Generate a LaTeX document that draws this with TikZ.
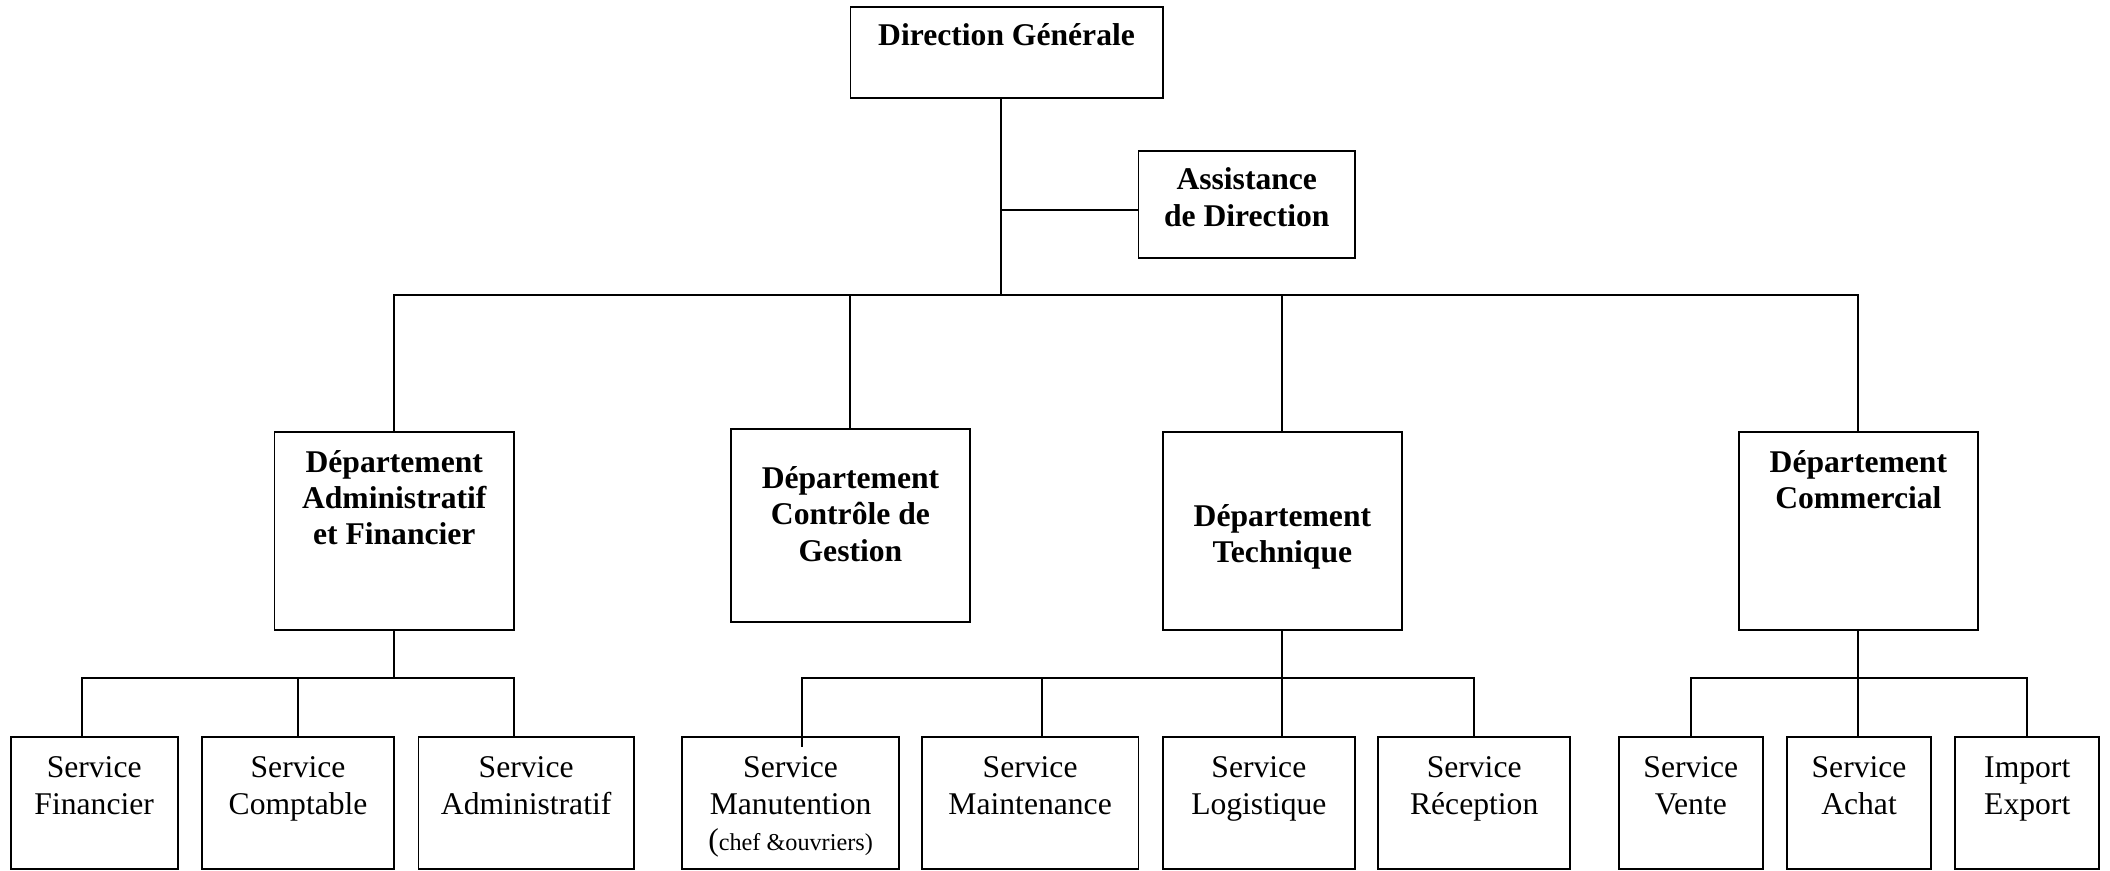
\documentclass[tikz,border=0pt]{standalone}
\usepackage{fontspec}
\setmainfont{Liberation Serif}
\newcommand{\bxt}[4]{\parbox[t][#2][t]{#1}{\centering\vspace*{\dimexpr#3-18.9pt\relax}\strut#4\par}}
\begin{document}
\begin{tikzpicture}[x=1pt,y=-1pt,
  box/.style={draw, line width=1.4pt, inner sep=0pt, outer sep=0pt, anchor=north west, font=\fontsize{23.5}{27}\selectfont},
  bbox/.style={box, font=\fontsize{23.5}{27}\selectfont\bfseries},
  conn/.style={line width=1.5pt}]
\useasboundingbox (0,0) rectangle (1568,647);
% top
\node[bbox] (dg) at (632,5) {\bxt{232pt}{68pt}{29pt}{Direction Générale}};
\node[bbox] (asst) at (846,112) {\bxt{161pt}{80pt}{29pt}{Assistance\\de Direction}};
% departments
\node[bbox] (af) at (204,321) {\bxt{178pt}{147pt}{30pt}{Département\\Administratif\\et Financier}};
\node[bbox] (cg) at (543,319) {\bxt{178pt}{143pt}{44pt}{Département\\Contrôle de\\Gestion}};
\node[bbox] (tech) at (864,321) {\bxt{178pt}{147pt}{70pt}{Département\\Technique}};
\node[bbox] (com) at (1292,321) {\bxt{178pt}{147pt}{30pt}{Département\\Commercial}};
% services
\node[box] (sfin) at (8,548) {\bxt{124pt}{98pt}{30pt}{Service\\Financier}};
\node[box] (scpt) at (150,548) {\bxt{143pt}{98pt}{30pt}{Service\\Comptable}};
\node[box] (sadm) at (311,548) {\bxt{160pt}{98pt}{30pt}{Service\\Administratif}};
\node[box] (sman) at (507,548) {\bxt{161pt}{98pt}{30pt}{Service\\Manutention\\({\fontsize{18}{27}\selectfont chef \&ouvriers)}}};
\node[box] (smai) at (685,548) {\bxt{161pt}{98pt}{30pt}{Service\\Maintenance}};
\node[box] (slog) at (864,548) {\bxt{143pt}{98pt}{30pt}{Service\\Logistique}};
\node[box] (srec) at (1024,548) {\bxt{143pt}{98pt}{30pt}{Service\\Réception}};
\node[box] (sven) at (1203,548) {\bxt{107pt}{98pt}{30pt}{Service\\Vente}};
\node[box] (sach) at (1328,548) {\bxt{107pt}{98pt}{30pt}{Service\\Achat}};
\node[box] (simp) at (1453,548) {\bxt{107pt}{98pt}{30pt}{Import\\Export}};
% main connectors
\coordinate (dgo) at ([xshift=-4pt]dg.south);
\coordinate (bus) at (dgo |- 0,219);
\coordinate (aj) at (dgo |- 0,156);
\draw[conn] (dgo) -- (bus);
\draw[conn] (aj) -- (aj -| asst.west);
\draw[conn] (af.north) |- (bus) -| (com.north);
\draw[conn] (cg.north) -- (cg.north |- bus);
\draw[conn] (tech.north) -- (tech.north |- bus);
% admin & finance
\coordinate (b1) at (af.south |- 0,504);
\coordinate (d1) at ([xshift=-9pt]sfin.north);
\coordinate (d3) at ([xshift=-9pt]sadm.north);
\draw[conn] (af.south) -- (b1);
\draw[conn] (d1) |- (b1) -| (d3);
\draw[conn] (scpt.north) -- (scpt.north |- b1);
% technique
\coordinate (b2) at (tech.south |- 0,504);
\coordinate (m1) at ([xshift=8.5pt,yshift=-7pt]sman.north);
\coordinate (m2) at ([xshift=8.5pt]smai.north);
\draw[conn] (tech.south) -- (tech.south |- slog.north);
\draw[conn] (m1) |- (b2) -| (srec.north);
\draw[conn] (m2) -- (m2 |- b2);
% commercial
\coordinate (b3) at (com.south |- 0,504);
\draw[conn] (com.south) -- (com.south |- sach.north);
\draw[conn] (sven.north) |- (b3) -| (simp.north);
\end{tikzpicture}
\end{document}
